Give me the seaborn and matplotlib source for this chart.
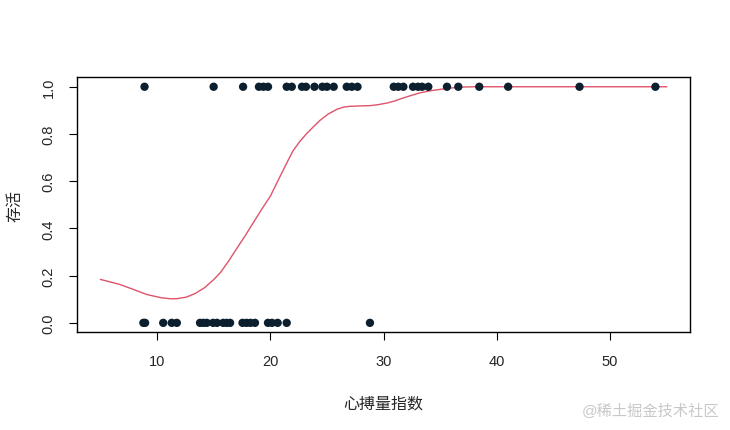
import numpy as np
import pandas as pd
import matplotlib
matplotlib.use("Agg")
import matplotlib.pyplot as plt
import seaborn as sns

# survived = 1
alive_x = [8.9, 15.0, 17.6, 19.0, 19.4, 19.8, 21.45, 21.9, 22.8, 23.15, 23.9, 24.6, 25.0,
           25.6, 26.75, 27.2, 27.7, 30.9, 31.3, 31.75, 32.6, 33.05, 33.4, 33.95, 35.6,
           36.6, 38.45, 41.0, 47.3, 54.0]
# survived = 0
dead_x = [8.8, 8.95, 10.55, 11.3, 11.75, 13.8, 14.1, 14.4, 14.95, 15.3, 15.85, 16.15, 16.45,
          17.55, 17.9, 18.25, 18.65, 19.8, 20.15, 20.65, 21.45, 28.8]

# fitted curve
curve_x = [5.0, 6.7, 8.0, 9.1, 10.4, 11.2, 11.7, 12.6, 13.4, 14.2, 15.0, 15.6, 16.3, 17.0,
           17.8, 18.5, 19.2, 20.0, 20.8, 21.4, 22.0, 22.6, 23.2, 23.8, 24.4, 25.1, 25.9,
           26.5, 27.0, 28.0, 28.8, 29.5, 30.3, 31.0, 31.7, 32.5, 33.2, 34.0, 35.0, 35.8,
           36.5, 37.2, 38.0, 45.0, 55.0]
curve_y = [0.184, 0.163, 0.140, 0.120, 0.106, 0.102, 0.102, 0.109, 0.125, 0.149, 0.183, 0.213,
           0.260, 0.312, 0.370, 0.424, 0.478, 0.536, 0.614, 0.672, 0.728, 0.768, 0.801, 0.830,
           0.858, 0.884, 0.905, 0.914, 0.917, 0.919, 0.920, 0.924, 0.931, 0.940, 0.952,
           0.964, 0.974, 0.982, 0.989, 0.994, 0.997, 0.999, 1.0, 1.0, 1.0]

df = pd.DataFrame({"x": alive_x + dead_x,
                   "y": [1] * len(alive_x) + [0] * len(dead_x)})
fit = pd.DataFrame({"x": curve_x, "y": curve_y})

sns.set_style("white")
plt.rcParams['font.family'] = ['Liberation Sans', 'Noto Sans CJK SC', 'DejaVu Sans']

fig = plt.figure(figsize=(7.3, 4.31), dpi=100)
ax = fig.add_axes([0.1055, 0.2267, 0.8395, 0.5916])

sns.lineplot(data=fit, x="x", y="y", color="#DF536B", linewidth=1.0, ax=ax)
sns.scatterplot(data=df, x="x", y="y", color="#0B1F2E", s=36, edgecolor="none", ax=ax, zorder=3)

ax.set_xlim(2.94, 57.04)
ax.set_ylim(-0.04, 1.04)
ax.set_xticks([10, 20, 30, 40, 50])
ax.set_yticks([0, 0.2, 0.4, 0.6, 0.8, 1.0])
ax.set_yticklabels(["0.0", "0.2", "0.4", "0.6", "0.8", "1.0"])
for s in ax.spines.values():
    s.set_color("black")
    s.set_linewidth(1.0)
ax.tick_params(axis="both", direction="out", length=5.5, width=0.8, color="black",
               labelsize=10.5, bottom=True, left=True)
ax.tick_params(axis="x", pad=10)
ax.tick_params(axis="y", pad=10, labelrotation=90)
for t in ax.get_yticklabels():
    t.set_va("center")

ax.set_xlabel("心搏量指数", fontsize=11.5, labelpad=20)
ax.set_ylabel("存活", fontsize=11.5, labelpad=14)

fig.text(0.985, 0.03, "@稀土掘金技术社区", ha="right", va="bottom", fontsize=11,
         color="#C8C8C8")

fig.savefig("out.png", dpi=100)
